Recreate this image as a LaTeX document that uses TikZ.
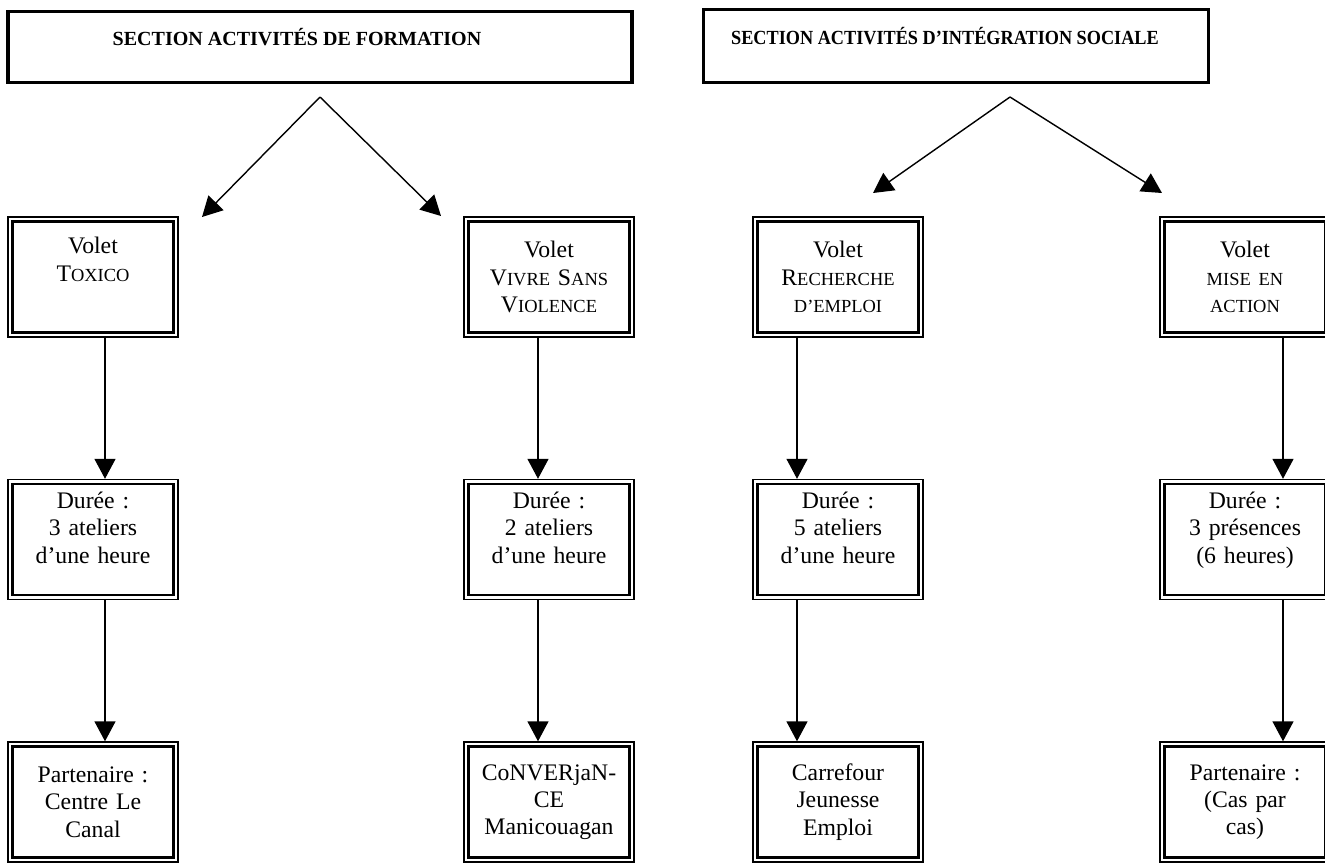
\documentclass[tikz,border=0pt]{standalone}
\usepackage{fontspec}
\setmainfont{Liberation Serif}
\usetikzlibrary{arrows.meta,positioning}

\newcommand\petit[1]{{\fontsize{10.5}{12}\selectfont #1}}

\begin{document}
\begin{tikzpicture}[x=0.2mm,y=-0.2mm,node distance=5.25cm,>={Triangle[length=4mm,width=4.2mm]}]
		\tikzstyle{section}=[rectangle, draw=black, line width=2pt, text height=10pt, text depth=11.7pt, font=\fontsize{11.4}{13}\selectfont\bfseries]
		\tikzstyle{volet}=[rectangle, draw=black, line width=0.8pt, minimum width=3.4cm, minimum height=2.4cm, inner sep=2pt, text width=3.2cm, align=center, font=\fontsize{13.5}{15.5}\selectfont,
			path picture={\draw[line width=1.6pt] ([shift={(0.09cm,-0.09cm)}]path picture bounding box.north west) rectangle ([shift={(-0.09cm,0.09cm)}]path picture bounding box.south east);}]
		\tikzstyle{fleche}=[->, line width=0.8pt]

		\useasboundingbox (0,0) rectangle (1325,865);

		% sections
		\node [section, minimum width=12.48cm, minimum height=1.42cm] (s1) at (320,47) {SECTION ACTIVITÉS DE FORMATION\hspace*{0.92cm}};
		\node [section, minimum width=10.1cm, minimum height=1.46cm] (s2) at (956,46) {\scalebox{0.91}[1]{SECTION ACTIVITÉS D’INTÉGRATION SOCIALE}\hspace*{0.44cm}};

		% volets
		\node [volet] (v1) at (93,277) {Volet\\ T\petit{OXICO}\\ \strut};
		\node [volet] (v2) at (549,277) {Volet\\ V\petit{IVRE} S\petit{ANS}\\ V\petit{IOLENCE}};
		\node [volet] (v3) at (838,277) {Volet\\ R\petit{ECHERCHE}\\ \petit{D’EMPLOI}};
		\node [volet] (v4) at (1245,277) {Volet\\ \petit{MISE EN}\\ \petit{ACTION}};

		% durees
		\node [volet] (d1) [below of=v1] {Durée :\\ 3 ateliers\\ d’une heure\\[-6.5pt] \strut};
		\node [volet] (d2) [below of=v2] {Durée :\\ 2 ateliers\\ d’une heure\\[-6.5pt] \strut};
		\node [volet] (d3) [below of=v3] {Durée :\\ 5 ateliers\\ d’une heure\\[-6.5pt] \strut};
		\node [volet] (d4) [below of=v4] {Durée :\\ 3 présences\\ (6 heures)\\[-6.5pt] \strut};

		% partenaires
		\node [volet] (p1) [below of=d1] {Partenaire :\\ Centre Le\\ Canal};
		\node [volet] (p2) [below of=d2] {CoNVERjaN-\\ CE\\ Manicouagan};
		\node [volet] (p3) [below of=d3] {Carrefour\\ Jeunesse\\ Emploi};
		\node [volet] (p4) [below of=d4] {Partenaire :\\ (Cas par\\ cas)};

		% fleches des sections
		\coordinate (a1) at (320,97);
		\coordinate (e1) at (202,217);
		\coordinate (e2) at (441,216);
		\coordinate (a2) at (1010,97);
		\coordinate (e3) at (873,193);
		\coordinate (e4) at (1162,193);
		\draw [fleche] (a1) -- (e1);
		\draw [fleche] (a1) -- (e2);
		\draw [fleche] (a2) -- (e3);
		\draw [fleche] (a2) -- (e4);

		% fleches verticales
		\foreach \i/\x in {1/105,2/538,3/797,4/1283} {
			\coordinate (x\i) at (\x,0);
			\draw [fleche] (v\i.south -| x\i) -- (d\i.north -| x\i);
			\draw [fleche] (d\i.south -| x\i) -- (p\i.north -| x\i);
		}
	\end{tikzpicture}
\end{document}
